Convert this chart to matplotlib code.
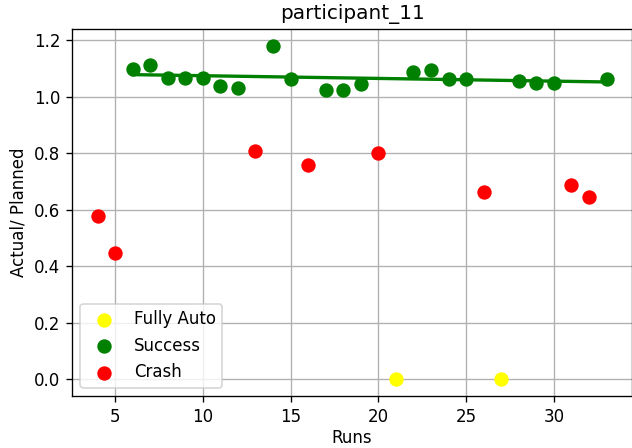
import numpy as np
import matplotlib
matplotlib.use('Agg')
import matplotlib.pyplot as plt

# runs and actual/planned ratios
auto_runs = [21, 27]
auto_ratio = [0.0, 0.0]

success_runs = [6, 7, 8, 9, 10, 11, 12, 14, 15, 17, 18, 19,
                22, 23, 24, 25, 28, 29, 30, 33]
success_ratio = [1.097, 1.111, 1.067, 1.067, 1.067, 1.038, 1.032, 1.180,
                 1.062, 1.022, 1.022, 1.044, 1.087, 1.093, 1.062, 1.062,
                 1.055, 1.050, 1.050, 1.062]

crash_runs = [4, 5, 13, 16, 20, 26, 31, 32]
crash_ratio = [0.579, 0.448, 0.807, 0.759, 0.801, 0.664, 0.689, 0.645]

DPI = 120
fig = plt.figure(figsize=(632 / DPI, 448 / DPI), dpi=DPI)
ax = fig.add_axes([0.114, 0.116, 0.886, 0.819])

ax.scatter(auto_runs, auto_ratio, color='yellow', s=58, label='Fully Auto', zorder=2)
ax.scatter(success_runs, success_ratio, color='green', s=58, label='Success', zorder=2)
ax.scatter(crash_runs, crash_ratio, color='red', s=58, label='Crash', zorder=2)

# linear trend over successful runs
coef = np.polyfit(success_runs, success_ratio, 1)
xs = np.array(success_runs)
ax.plot(xs, np.polyval(coef, xs), color='green', lw=2)

ax.grid(True)
ax.set_title('participant_11')
ax.set_xlabel('Runs', labelpad=2)
ax.set_ylabel('Actual/ Planned')
ax.legend(loc='lower left')

fig.savefig('out.png', dpi=DPI)
